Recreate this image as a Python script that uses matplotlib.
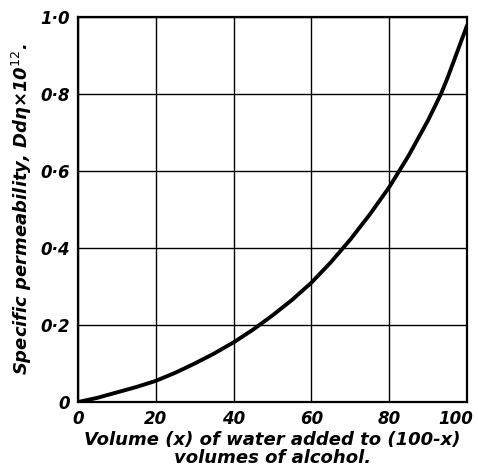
import numpy as np
import matplotlib.pyplot as plt
import matplotlib.transforms as mtransforms

# values
water_vol = [0, 5, 10, 15, 20, 25, 30, 35, 40, 45, 50, 55, 60, 65, 70, 75,
             80, 85, 90, 93.3, 95, 100]
permeability = [0, 0.011, 0.025, 0.039, 0.055, 0.076, 0.100, 0.126, 0.155,
                0.188, 0.225, 0.265, 0.310, 0.363, 0.422, 0.487, 0.558,
                0.640, 0.732, 0.800, 0.842, 0.978]

x_ticks = [0, 20, 40, 60, 80, 100]
y_ticks = [0, 0.2, 0.4, 0.6, 0.8, 1.0]
y_tick_labels = ["0", "0·2", "0·4", "0·6", "0·8", "1·0"]

font = dict(family="DejaVu Sans", style="italic", weight="bold")

fig = plt.figure(figsize=(4.78, 4.73), dpi=100)
ax = fig.add_axes([0.163, 0.150, 0.814, 0.814])

ax.plot(water_vol, permeability, color="black", lw=2.8,
        solid_capstyle="round", solid_joinstyle="round")

ax.set_xlim(0, 100)
ax.set_ylim(0, 1.0)
ax.set_xticks(x_ticks)
ax.set_yticks(y_ticks)
ax.set_xticklabels([str(t) for t in x_ticks], fontsize=12, **font)
ax.set_yticklabels(y_tick_labels, fontsize=12, **font)
ax.tick_params(length=0, pad=6)
ax.grid(True, color="black", lw=1.0)
for s in ax.spines.values():
    s.set_linewidth(1.6)

# pull the "100" label in so it stays inside the figure
last = ax.get_xticklabels()[-1]
last.set_transform(last.get_transform() +
                   mtransforms.ScaledTranslation(-8 / 72, 0, fig.dpi_scale_trans))

ax.set_ylabel("Specific permeability, Ddη×10$^{12}$.", fontsize=13, labelpad=4, **font)
ax.set_xlabel("Volume (x) of water added to (100-x)\nvolumes of alcohol.",
              fontsize=13, labelpad=2, linespacing=1.0, **font)

fig.savefig("out.png", dpi=100)
